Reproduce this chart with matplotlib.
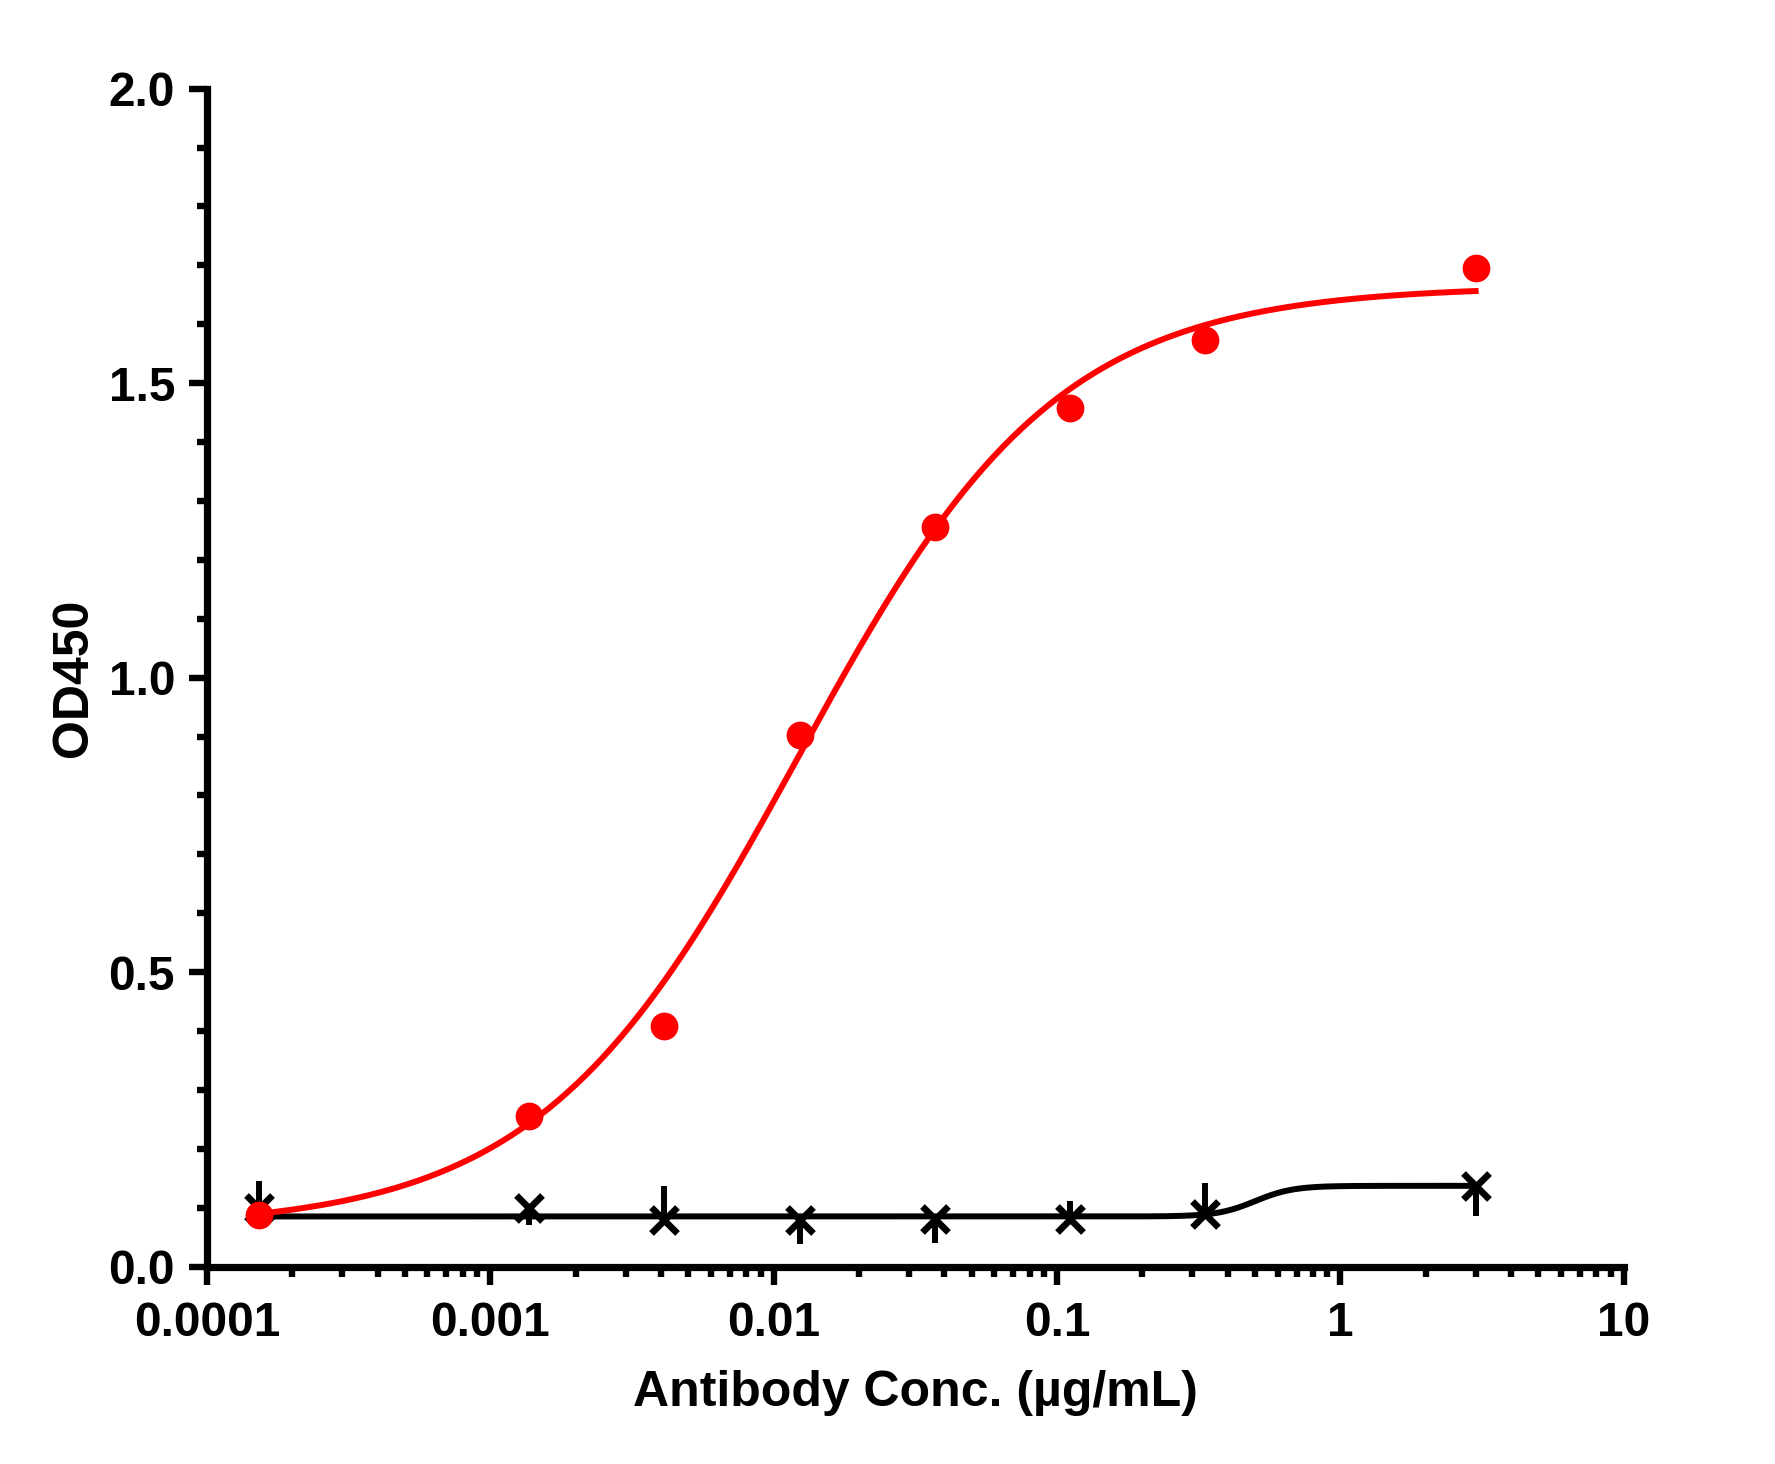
import numpy as np
import matplotlib
matplotlib.use("Agg")
import matplotlib.pyplot as plt
from matplotlib.ticker import LogLocator, FixedLocator, NullFormatter, MultipleLocator

# ---- data ----
conc = [3.0, 0.3333, 0.1111, 0.03704, 0.01235, 0.004115, 0.001372, 0.0001524]
od_target = [1.695, 1.573, 1.458, 1.256, 0.903, 0.409, 0.256, 0.088]
od_control = [0.136, 0.089, 0.081, 0.080, 0.079, 0.079, 0.099, 0.100]
ctrl_err_low = [0.050, 0.0, 0.0, 0.040, 0.040, 0.0, 0.028, 0.0]
ctrl_err_high = [0.0, 0.052, 0.030, 0.0, 0.0, 0.058, 0.0, 0.045]

# 4PL fit parameters (bottom, top, EC50, hill)
fit_target = dict(bottom=0.065, top=1.665, ec50=0.0122, hill=0.95)
fit_control = dict(bottom=0.085, top=0.137, ec50=0.50, hill=6.5)

xticks = [0.0001, 0.001, 0.01, 0.1, 1, 10]
xticklabels = ["0.0001", "0.001", "0.01", "0.1", "1", "10"]
yticks = [0.0, 0.5, 1.0, 1.5, 2.0]
yticklabels = ["0.0", "0.5", "1.0", "1.5", "2.0"]


def four_pl(x, bottom, top, ec50, hill):
    return bottom + (top - bottom) / (1.0 + (ec50 / x) ** hill)


plt.rcParams['font.family'] = ['Liberation Sans', 'DejaVu Sans']
plt.rcParams['font.weight'] = 'bold'

fig = plt.figure(figsize=(17.75, 14.64), dpi=100)
left, right, bottom, top = 0.1166, 0.9148, 0.1349, 0.9394
ax = fig.add_axes([left, bottom, right - left, top - bottom])

xs = np.logspace(np.log10(min(conc)), np.log10(max(conc)), 400)

# control series (black)
ax.plot(xs, four_pl(xs, **fit_control), color='black', lw=4.3, zorder=3, clip_on=False)
ax.errorbar(conc, od_control, yerr=[ctrl_err_low, ctrl_err_high], fmt='none',
            ecolor='black', elinewidth=4.3, capsize=0, zorder=3, clip_on=False)
ax.plot(conc, od_control, linestyle='none', marker='x', markersize=19,
        markeredgewidth=4.8, color='black', zorder=4, clip_on=False)

# target series (red)
ax.plot(xs, four_pl(xs, **fit_target), color='#ff0000', lw=4.3, zorder=5, clip_on=False)
ax.plot(conc, od_target, linestyle='none', marker='o', markersize=20,
        color='#ff0000', markeredgewidth=0, zorder=6, clip_on=False)

ax.set_xscale('log')
ax.set_xlim(1e-4, 10)
ax.set_ylim(0, 2.0)

ax.xaxis.set_major_locator(FixedLocator(xticks))
ax.set_xticklabels(xticklabels)
ax.xaxis.set_minor_locator(LogLocator(base=10, subs=np.arange(2, 10), numticks=100))
ax.xaxis.set_minor_formatter(NullFormatter())
ax.yaxis.set_major_locator(FixedLocator(yticks))
ax.set_yticklabels(yticklabels)
ax.yaxis.set_minor_locator(MultipleLocator(0.1))

for s in ['top', 'right']:
    ax.spines[s].set_visible(False)
for s in ['left', 'bottom']:
    ax.spines[s].set_linewidth(5.2)
    ax.spines[s].set_capstyle('projecting')

ax.tick_params(axis='both', which='major', direction='out', length=13, width=4.6,
               labelsize=34.5)
ax.tick_params(axis='x', which='major', pad=12)
ax.tick_params(axis='y', which='major', pad=10)
ax.tick_params(axis='both', which='minor', direction='out', length=7.5, width=4.6)

for lab in ax.get_xticklabels() + ax.get_yticklabels():
    lab.set_fontweight('bold')

ax.set_xlabel("Antibody Conc. (µg/mL)", fontsize=36, fontweight='bold', labelpad=17)
ax.set_ylabel("OD450", fontsize=36, fontweight='bold', labelpad=8)

fig.savefig("out.png", dpi=100, facecolor='white')
